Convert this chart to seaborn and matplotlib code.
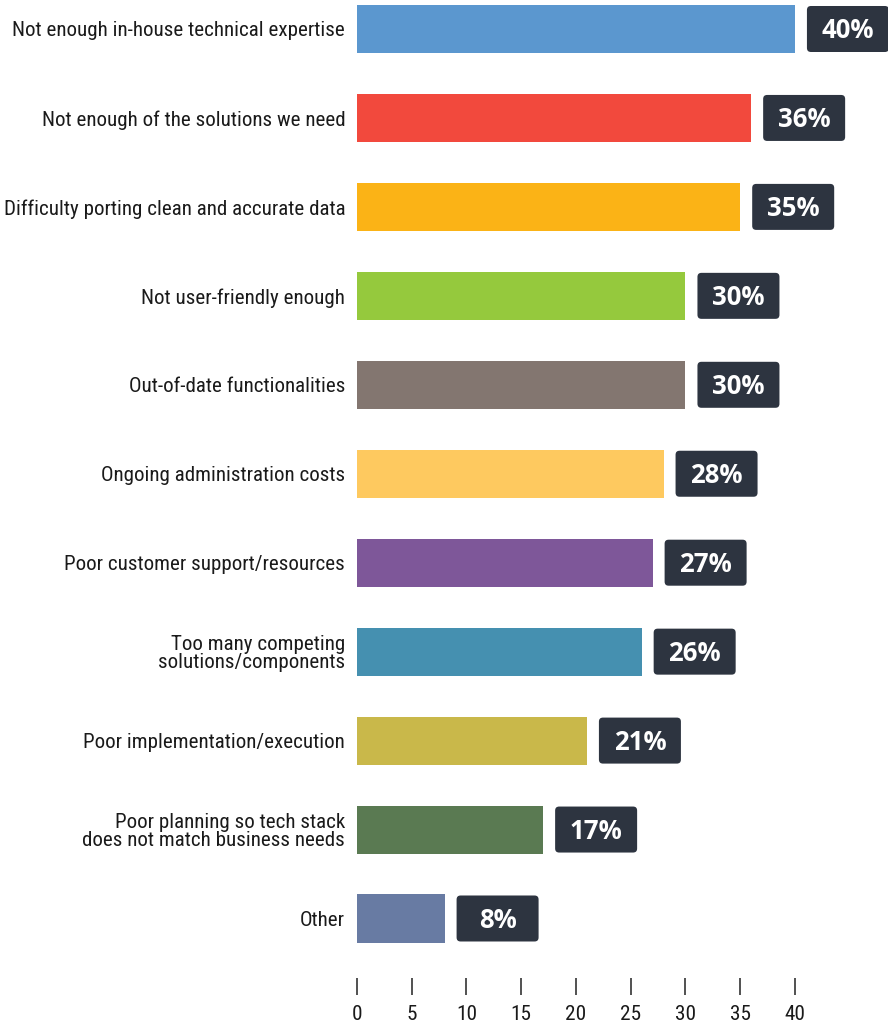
import matplotlib
matplotlib.use("Agg")
import matplotlib.pyplot as plt
import matplotlib.transforms as mtransforms
from matplotlib.patches import FancyBboxPatch
from matplotlib import font_manager
import seaborn as sns
import pandas as pd

categories = [
    "Not enough in-house technical expertise",
    "Not enough of the solutions we need",
    "Difficulty porting clean and accurate data",
    "Not user-friendly enough",
    "Out-of-date functionalities",
    "Ongoing administration costs",
    "Poor customer support/resources",
    "Too many competing\nsolutions/components",
    "Poor implementation/execution",
    "Poor planning so tech stack\ndoes not match business needs",
    "Other",
]
values = [40, 36, 35, 30, 30, 28, 27, 26, 21, 17, 8]
colors = [
    "#5b97cf", "#f2493d", "#fbb316", "#95c93d", "#837670", "#fec95f",
    "#7e5799", "#4590b0", "#c9b84a", "#5a7a52", "#687ba3",
]
xticks = [0, 5, 10, 15, 20, 25, 30, 35, 40]

sns.set_theme(style="white")

available = {f.name for f in font_manager.fontManager.ttflist}
label_font = next(
    (n for n in ["Roboto Condensed", "Liberation Sans Narrow", "Roboto"] if n in available),
    "DejaVu Sans",
)
badge_font = "Open Sans" if "Open Sans" in available else "DejaVu Sans"
plt.rcParams["font.family"] = [label_font, "DejaVu Sans"]

W, H, DPI = 888, 1028, 100
fig = plt.figure(figsize=(W / DPI, H / DPI), dpi=DPI)
ax = fig.add_axes([357 / W, 1 - 978 / H, 1 - 357 / W, 978 / H])

df = pd.DataFrame({"category": categories, "value": values})
sns.barplot(
    data=df, x="value", y="category", hue="category", palette=colors,
    saturation=1, legend=False, width=0.54, ax=ax, linewidth=0,
)

ax.set_xlim(0, 48.5)
ax.set_ylim(10.669, -0.326)
ax.set_xlabel("")
ax.set_ylabel("")
for s in ax.spines.values():
    s.set_visible(False)

ax.set_xticks(xticks)
ax.set_xticklabels([str(t) for t in xticks])
ax.tick_params(axis="x", bottom=True, direction="out", length=12.2, width=1.1,
               color="#222222", pad=7.5, labelsize=15.3, labelcolor="#1a1a1a")
ax.tick_params(axis="y", left=False, length=0, pad=8.5, labelsize=15.1,
               labelcolor="#1a1a1a")
for lbl in ax.get_yticklabels():
    lbl.set_linespacing(0.95)
    lbl.set_horizontalalignment("right")
    lbl.set_multialignment("right")

# value badges: fixed-size rounded boxes placed right after each bar
gap, bw, bh = 12, 82, 46
for i, v in enumerate(values):
    trans = mtransforms.Affine2D() + mtransforms.ScaledTranslation(v, i, ax.transData)
    box = FancyBboxPatch(
        (gap, -bh / 2), bw, bh,
        boxstyle="round,pad=0,rounding_size=4",
        facecolor="#2d3440", edgecolor="none",
        transform=trans, clip_on=False, zorder=3,
    )
    ax.add_patch(box)
    ax.annotate(
        f"{v}%", xy=(v, i), xytext=(gap + bw / 2, -2), textcoords="offset pixels",
        ha="center", va="center", color="white", fontsize=18.5, fontweight="bold",
        family=[badge_font, "DejaVu Sans"], zorder=4, annotation_clip=False,
    )

fig.savefig("out.png", dpi=DPI, facecolor="white")
